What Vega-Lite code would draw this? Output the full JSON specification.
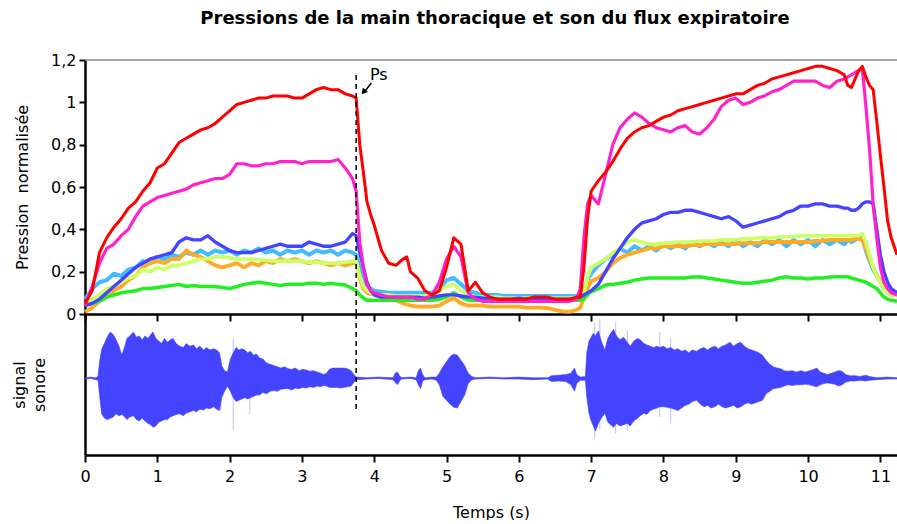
{
  "$schema": "https://vega.github.io/schema/vega-lite/v6.json",
  "padding": {"left": 11, "top": 10, "right": 0, "bottom": 0},
  "background": "white",
  "bounds": "flush",
  "title": {"text": "Pressions de la main thoracique et son du flux expiratoire", "font": "DejaVu Sans", "fontSize": 18, "fontWeight": "bold", "color": "black", "anchor": "middle", "offset": 24, "dx": 40},
  "config": {
    "font": "DejaVu Sans",
    "view": {"stroke": null},
    "axis": {"grid": false, "domainColor": "black", "domainWidth": 2.5, "tickColor": "black", "tickWidth": 2, "labelFont": "DejaVu Sans", "labelFontSize": 16, "labelColor": "black", "titleFont": "DejaVu Sans", "titleFontSize": 16, "titleFontWeight": "normal", "titleColor": "black"}
  },
  "spacing": 0,
  "datasets": {
    "pression": [
      {"t":0.0,"s1":0.07,"s2":0.01,"s3":0.05,"s4":0.04,"s5":0.04,"s6":0.04,"s7":0.05},
      {"t":0.1,"s1":0.12,"s2":0.03,"s3":0.07,"s4":0.05,"s5":0.05,"s6":0.13,"s7":0.11},
      {"t":0.2,"s1":0.15,"s2":0.06,"s3":0.09,"s4":0.06,"s5":0.07,"s6":0.24,"s7":0.29},
      {"t":0.3,"s1":0.16,"s2":0.08,"s3":0.12,"s4":0.08,"s5":0.10,"s6":0.31,"s7":0.36},
      {"t":0.4,"s1":0.19,"s2":0.11,"s3":0.13,"s4":0.09,"s5":0.13,"s6":0.33,"s7":0.41},
      {"t":0.5,"s1":0.18,"s2":0.13,"s3":0.15,"s4":0.10,"s5":0.16,"s6":0.37,"s7":0.45},
      {"t":0.6,"s1":0.21,"s2":0.16,"s3":0.17,"s4":0.105,"s5":0.19,"s6":0.40,"s7":0.50},
      {"t":0.7,"s1":0.22,"s2":0.18,"s3":0.18,"s4":0.11,"s5":0.22,"s6":0.46,"s7":0.53},
      {"t":0.8,"s1":0.25,"s2":0.22,"s3":0.21,"s4":0.12,"s5":0.24,"s6":0.51,"s7":0.58},
      {"t":0.9,"s1":0.24,"s2":0.24,"s3":0.20,"s4":0.12,"s5":0.26,"s6":0.53,"s7":0.62},
      {"t":1.0,"s1":0.27,"s2":0.25,"s3":0.22,"s4":0.125,"s5":0.27,"s6":0.55,"s7":0.69},
      {"t":1.1,"s1":0.26,"s2":0.24,"s3":0.21,"s4":0.13,"s5":0.28,"s6":0.56,"s7":0.71},
      {"t":1.2,"s1":0.28,"s2":0.26,"s3":0.23,"s4":0.135,"s5":0.29,"s6":0.57,"s7":0.76},
      {"t":1.3,"s1":0.27,"s2":0.26,"s3":0.23,"s4":0.14,"s5":0.34,"s6":0.58,"s7":0.81},
      {"t":1.4,"s1":0.29,"s2":0.30,"s3":0.24,"s4":0.13,"s5":0.36,"s6":0.59,"s7":0.83},
      {"t":1.5,"s1":0.28,"s2":0.28,"s3":0.25,"s4":0.135,"s5":0.35,"s6":0.61,"s7":0.85},
      {"t":1.6,"s1":0.30,"s2":0.27,"s3":0.26,"s4":0.13,"s5":0.35,"s6":0.62,"s7":0.87},
      {"t":1.7,"s1":0.28,"s2":0.25,"s3":0.26,"s4":0.13,"s5":0.37,"s6":0.63,"s7":0.88},
      {"t":1.8,"s1":0.30,"s2":0.23,"s3":0.27,"s4":0.13,"s5":0.34,"s6":0.64,"s7":0.90},
      {"t":1.9,"s1":0.29,"s2":0.22,"s3":0.27,"s4":0.125,"s5":0.32,"s6":0.64,"s7":0.93},
      {"t":2.0,"s1":0.30,"s2":0.23,"s3":0.265,"s4":0.12,"s5":0.30,"s6":0.66,"s7":0.96},
      {"t":2.1,"s1":0.28,"s2":0.24,"s3":0.26,"s4":0.13,"s5":0.29,"s6":0.71,"s7":0.99},
      {"t":2.2,"s1":0.30,"s2":0.22,"s3":0.26,"s4":0.14,"s5":0.29,"s6":0.71,"s7":1.00},
      {"t":2.3,"s1":0.29,"s2":0.24,"s3":0.26,"s4":0.145,"s5":0.29,"s6":0.70,"s7":1.01},
      {"t":2.4,"s1":0.31,"s2":0.23,"s3":0.255,"s4":0.15,"s5":0.30,"s6":0.70,"s7":1.02},
      {"t":2.5,"s1":0.29,"s2":0.25,"s3":0.255,"s4":0.145,"s5":0.31,"s6":0.71,"s7":1.02},
      {"t":2.6,"s1":0.30,"s2":0.24,"s3":0.25,"s4":0.14,"s5":0.32,"s6":0.71,"s7":1.03},
      {"t":2.7,"s1":0.28,"s2":0.26,"s3":0.25,"s4":0.135,"s5":0.33,"s6":0.72,"s7":1.03},
      {"t":2.8,"s1":0.30,"s2":0.25,"s3":0.25,"s4":0.14,"s5":0.32,"s6":0.72,"s7":1.03},
      {"t":2.9,"s1":0.29,"s2":0.26,"s3":0.25,"s4":0.14,"s5":0.32,"s6":0.72,"s7":1.02},
      {"t":3.0,"s1":0.30,"s2":0.25,"s3":0.25,"s4":0.14,"s5":0.32,"s6":0.71,"s7":1.02},
      {"t":3.1,"s1":0.28,"s2":0.24,"s3":0.245,"s4":0.145,"s5":0.34,"s6":0.72,"s7":1.04},
      {"t":3.2,"s1":0.30,"s2":0.25,"s3":0.245,"s4":0.145,"s5":0.33,"s6":0.72,"s7":1.06},
      {"t":3.3,"s1":0.29,"s2":0.24,"s3":0.24,"s4":0.14,"s5":0.32,"s6":0.72,"s7":1.07},
      {"t":3.4,"s1":0.30,"s2":0.23,"s3":0.24,"s4":0.145,"s5":0.32,"s6":0.72,"s7":1.06},
      {"t":3.5,"s1":0.28,"s2":0.24,"s3":0.24,"s4":0.14,"s5":0.33,"s6":0.73,"s7":1.06},
      {"t":3.6,"s1":0.30,"s2":0.23,"s3":0.245,"s4":0.137,"s5":0.34,"s6":0.69,"s7":1.04},
      {"t":3.7,"s1":0.29,"s2":0.24,"s3":0.25,"s4":0.12,"s5":0.38,"s6":0.64,"s7":1.03},
      {"t":3.75,"s1":0.28,"s2":0.24,"s3":0.25,"s4":0.11,"s5":0.37,"s6":0.58,"s7":1.02},
      {"t":3.8,"s1":0.22,"s2":0.17,"s3":0.18,"s4":0.09,"s5":0.29,"s6":0.34,"s7":0.80},
      {"t":3.85,"s1":0.16,"s2":0.12,"s3":0.13,"s4":0.075,"s5":0.22,"s6":0.22,"s7":0.67},
      {"t":3.9,"s1":0.13,"s2":0.10,"s3":0.11,"s4":0.065,"s5":0.15,"s6":0.14,"s7":0.53},
      {"t":3.95,"s1":0.12,"s2":0.095,"s3":0.10,"s4":0.065,"s5":0.11,"s6":0.11,"s7":0.47},
      {"t":4.0,"s1":0.11,"s2":0.09,"s3":0.09,"s4":0.065,"s5":0.09,"s6":0.10,"s7":0.42},
      {"t":4.1,"s1":0.105,"s2":0.08,"s3":0.09,"s4":0.065,"s5":0.08,"s6":0.09,"s7":0.30},
      {"t":4.2,"s1":0.10,"s2":0.07,"s3":0.09,"s4":0.065,"s5":0.08,"s6":0.08,"s7":0.24},
      {"t":4.3,"s1":0.10,"s2":0.065,"s3":0.085,"s4":0.065,"s5":0.08,"s6":0.08,"s7":0.23},
      {"t":4.4,"s1":0.10,"s2":0.05,"s3":0.085,"s4":0.065,"s5":0.08,"s6":0.08,"s7":0.26},
      {"t":4.45,"s1":0.10,"s2":0.045,"s3":0.085,"s4":0.065,"s5":0.08,"s6":0.08,"s7":0.27},
      {"t":4.5,"s1":0.10,"s2":0.04,"s3":0.085,"s4":0.065,"s5":0.08,"s6":0.08,"s7":0.20},
      {"t":4.6,"s1":0.10,"s2":0.035,"s3":0.085,"s4":0.065,"s5":0.08,"s6":0.07,"s7":0.17},
      {"t":4.7,"s1":0.10,"s2":0.035,"s3":0.085,"s4":0.065,"s5":0.075,"s6":0.07,"s7":0.11},
      {"t":4.8,"s1":0.10,"s2":0.035,"s3":0.09,"s4":0.065,"s5":0.08,"s6":0.09,"s7":0.09},
      {"t":4.9,"s1":0.12,"s2":0.04,"s3":0.11,"s4":0.07,"s5":0.085,"s6":0.15,"s7":0.11},
      {"t":5.0,"s1":0.16,"s2":0.06,"s3":0.13,"s4":0.08,"s5":0.09,"s6":0.26,"s7":0.22},
      {"t":5.1,"s1":0.17,"s2":0.075,"s3":0.14,"s4":0.10,"s5":0.09,"s6":0.32,"s7":0.36},
      {"t":5.2,"s1":0.14,"s2":0.05,"s3":0.11,"s4":0.08,"s5":0.085,"s6":0.27,"s7":0.33},
      {"t":5.3,"s1":0.11,"s2":0.04,"s3":0.09,"s4":0.065,"s5":0.08,"s6":0.10,"s7":0.11},
      {"t":5.4,"s1":0.10,"s2":0.04,"s3":0.08,"s4":0.065,"s5":0.08,"s6":0.07,"s7":0.15},
      {"t":5.5,"s1":0.09,"s2":0.04,"s3":0.08,"s4":0.065,"s5":0.075,"s6":0.06,"s7":0.10},
      {"t":5.6,"s1":0.09,"s2":0.035,"s3":0.08,"s4":0.065,"s5":0.075,"s6":0.06,"s7":0.08},
      {"t":5.7,"s1":0.09,"s2":0.035,"s3":0.08,"s4":0.065,"s5":0.07,"s6":0.06,"s7":0.07},
      {"t":5.8,"s1":0.085,"s2":0.035,"s3":0.075,"s4":0.065,"s5":0.07,"s6":0.06,"s7":0.07},
      {"t":5.9,"s1":0.085,"s2":0.035,"s3":0.075,"s4":0.065,"s5":0.07,"s6":0.06,"s7":0.07},
      {"t":6.0,"s1":0.085,"s2":0.035,"s3":0.075,"s4":0.065,"s5":0.075,"s6":0.06,"s7":0.07},
      {"t":6.1,"s1":0.085,"s2":0.03,"s3":0.075,"s4":0.065,"s5":0.07,"s6":0.06,"s7":0.07},
      {"t":6.2,"s1":0.085,"s2":0.03,"s3":0.075,"s4":0.065,"s5":0.075,"s6":0.06,"s7":0.08},
      {"t":6.3,"s1":0.085,"s2":0.03,"s3":0.075,"s4":0.065,"s5":0.07,"s6":0.06,"s7":0.08},
      {"t":6.4,"s1":0.085,"s2":0.028,"s3":0.075,"s4":0.065,"s5":0.07,"s6":0.06,"s7":0.08},
      {"t":6.5,"s1":0.085,"s2":0.02,"s3":0.075,"s4":0.065,"s5":0.07,"s6":0.06,"s7":0.07},
      {"t":6.6,"s1":0.085,"s2":0.012,"s3":0.075,"s4":0.065,"s5":0.07,"s6":0.06,"s7":0.07},
      {"t":6.7,"s1":0.085,"s2":0.01,"s3":0.075,"s4":0.065,"s5":0.07,"s6":0.06,"s7":0.07},
      {"t":6.8,"s1":0.085,"s2":0.02,"s3":0.075,"s4":0.065,"s5":0.075,"s6":0.07,"s7":0.08},
      {"t":6.85,"s1":0.09,"s2":0.03,"s3":0.08,"s4":0.065,"s5":0.08,"s6":0.12,"s7":0.08},
      {"t":6.9,"s1":0.11,"s2":0.08,"s3":0.10,"s4":0.07,"s5":0.09,"s6":0.36,"s7":0.22},
      {"t":6.95,"s1":0.16,"s2":0.12,"s3":0.17,"s4":0.09,"s5":0.10,"s6":0.52,"s7":0.45},
      {"t":7.0,"s1":0.19,"s2":0.155,"s3":0.22,"s4":0.105,"s5":0.11,"s6":0.56,"s7":0.58},
      {"t":7.1,"s1":0.23,"s2":0.17,"s3":0.24,"s4":0.12,"s5":0.14,"s6":0.52,"s7":0.63},
      {"t":7.2,"s1":0.26,"s2":0.20,"s3":0.26,"s4":0.137,"s5":0.20,"s6":0.66,"s7":0.67},
      {"t":7.3,"s1":0.28,"s2":0.24,"s3":0.29,"s4":0.14,"s5":0.26,"s6":0.80,"s7":0.72},
      {"t":7.4,"s1":0.31,"s2":0.265,"s3":0.31,"s4":0.145,"s5":0.31,"s6":0.88,"s7":0.78},
      {"t":7.5,"s1":0.29,"s2":0.28,"s3":0.34,"s4":0.15,"s5":0.36,"s6":0.92,"s7":0.83},
      {"t":7.6,"s1":0.32,"s2":0.29,"s3":0.35,"s4":0.16,"s5":0.40,"s6":0.95,"s7":0.86},
      {"t":7.7,"s1":0.30,"s2":0.30,"s3":0.34,"s4":0.165,"s5":0.43,"s6":0.93,"s7":0.88},
      {"t":7.8,"s1":0.32,"s2":0.31,"s3":0.33,"s4":0.17,"s5":0.44,"s6":0.90,"s7":0.89},
      {"t":7.9,"s1":0.30,"s2":0.31,"s3":0.33,"s4":0.17,"s5":0.45,"s6":0.88,"s7":0.91},
      {"t":8.0,"s1":0.33,"s2":0.32,"s3":0.335,"s4":0.17,"s5":0.47,"s6":0.87,"s7":0.93},
      {"t":8.1,"s1":0.31,"s2":0.32,"s3":0.335,"s4":0.17,"s5":0.48,"s6":0.86,"s7":0.94},
      {"t":8.2,"s1":0.33,"s2":0.32,"s3":0.34,"s4":0.17,"s5":0.48,"s6":0.88,"s7":0.96},
      {"t":8.3,"s1":0.31,"s2":0.32,"s3":0.34,"s4":0.17,"s5":0.49,"s6":0.89,"s7":0.97},
      {"t":8.4,"s1":0.34,"s2":0.325,"s3":0.34,"s4":0.175,"s5":0.49,"s6":0.86,"s7":0.98},
      {"t":8.5,"s1":0.32,"s2":0.325,"s3":0.345,"s4":0.176,"s5":0.48,"s6":0.85,"s7":0.99},
      {"t":8.6,"s1":0.34,"s2":0.33,"s3":0.345,"s4":0.17,"s5":0.47,"s6":0.88,"s7":1.00},
      {"t":8.7,"s1":0.32,"s2":0.33,"s3":0.345,"s4":0.165,"s5":0.46,"s6":0.92,"s7":1.01},
      {"t":8.8,"s1":0.34,"s2":0.33,"s3":0.35,"s4":0.16,"s5":0.45,"s6":0.98,"s7":1.02},
      {"t":8.9,"s1":0.32,"s2":0.33,"s3":0.35,"s4":0.155,"s5":0.46,"s6":1.01,"s7":1.03},
      {"t":9.0,"s1":0.35,"s2":0.33,"s3":0.35,"s4":0.15,"s5":0.44,"s6":1.02,"s7":1.04},
      {"t":9.1,"s1":0.32,"s2":0.335,"s3":0.355,"s4":0.145,"s5":0.41,"s6":0.99,"s7":1.04},
      {"t":9.2,"s1":0.34,"s2":0.335,"s3":0.355,"s4":0.145,"s5":0.42,"s6":1.00,"s7":1.06},
      {"t":9.3,"s1":0.32,"s2":0.335,"s3":0.36,"s4":0.15,"s5":0.43,"s6":1.02,"s7":1.08},
      {"t":9.4,"s1":0.35,"s2":0.34,"s3":0.36,"s4":0.155,"s5":0.44,"s6":1.03,"s7":1.09},
      {"t":9.5,"s1":0.33,"s2":0.34,"s3":0.36,"s4":0.16,"s5":0.45,"s6":1.05,"s7":1.11},
      {"t":9.6,"s1":0.35,"s2":0.34,"s3":0.365,"s4":0.17,"s5":0.46,"s6":1.06,"s7":1.12},
      {"t":9.7,"s1":0.32,"s2":0.34,"s3":0.365,"s4":0.176,"s5":0.48,"s6":1.08,"s7":1.13},
      {"t":9.8,"s1":0.35,"s2":0.34,"s3":0.365,"s4":0.17,"s5":0.49,"s6":1.10,"s7":1.14},
      {"t":9.9,"s1":0.33,"s2":0.34,"s3":0.37,"s4":0.17,"s5":0.51,"s6":1.10,"s7":1.15},
      {"t":10.0,"s1":0.35,"s2":0.34,"s3":0.37,"s4":0.165,"s5":0.51,"s6":1.10,"s7":1.16},
      {"t":10.1,"s1":0.32,"s2":0.345,"s3":0.37,"s4":0.17,"s5":0.52,"s6":1.10,"s7":1.17},
      {"t":10.2,"s1":0.35,"s2":0.345,"s3":0.37,"s4":0.17,"s5":0.52,"s6":1.08,"s7":1.17},
      {"t":10.3,"s1":0.33,"s2":0.35,"s3":0.37,"s4":0.175,"s5":0.51,"s6":1.07,"s7":1.16},
      {"t":10.4,"s1":0.35,"s2":0.35,"s3":0.37,"s4":0.176,"s5":0.51,"s6":1.10,"s7":1.15},
      {"t":10.5,"s1":0.33,"s2":0.35,"s3":0.37,"s4":0.176,"s5":0.50,"s6":1.11,"s7":1.13},
      {"t":10.55,"s1":0.35,"s2":0.35,"s3":0.37,"s4":0.176,"s5":0.50,"s6":1.12,"s7":1.08},
      {"t":10.6,"s1":0.34,"s2":0.35,"s3":0.37,"s4":0.17,"s5":0.49,"s6":1.13,"s7":1.07},
      {"t":10.65,"s1":0.35,"s2":0.355,"s3":0.37,"s4":0.165,"s5":0.49,"s6":1.14,"s7":1.11},
      {"t":10.7,"s1":0.36,"s2":0.355,"s3":0.37,"s4":0.16,"s5":0.50,"s6":1.15,"s7":1.15},
      {"t":10.75,"s1":0.36,"s2":0.35,"s3":0.38,"s4":0.155,"s5":0.52,"s6":1.16,"s7":1.17},
      {"t":10.8,"s1":0.30,"s2":0.31,"s3":0.34,"s4":0.15,"s5":0.53,"s6":0.98,"s7":1.12},
      {"t":10.85,"s1":0.25,"s2":0.26,"s3":0.28,"s4":0.14,"s5":0.53,"s6":0.78,"s7":1.08},
      {"t":10.9,"s1":0.21,"s2":0.22,"s3":0.22,"s4":0.13,"s5":0.52,"s6":0.52,"s7":1.06},
      {"t":10.95,"s1":0.18,"s2":0.185,"s3":0.18,"s4":0.12,"s5":0.40,"s6":0.36,"s7":0.91},
      {"t":11.0,"s1":0.155,"s2":0.15,"s3":0.15,"s4":0.10,"s5":0.28,"s6":0.22,"s7":0.75},
      {"t":11.05,"s1":0.13,"s2":0.12,"s3":0.12,"s4":0.08,"s5":0.20,"s6":0.15,"s7":0.60},
      {"t":11.1,"s1":0.12,"s2":0.10,"s3":0.10,"s4":0.07,"s5":0.15,"s6":0.12,"s7":0.44},
      {"t":11.15,"s1":0.11,"s2":0.09,"s3":0.09,"s4":0.065,"s5":0.12,"s6":0.10,"s7":0.36},
      {"t":11.23,"s1":0.10,"s2":0.09,"s3":0.09,"s4":0.06,"s5":0.10,"s6":0.09,"s7":0.28}
    ],
    "son": [
      {"t":0.0,"hi":0.01,"lo":-0.01},{"t":0.08,"hi":0.02,"lo":0.0},{"t":0.15,"hi":0.01,"lo":-0.02},
      {"t":0.18,"hi":0.03,"lo":-0.03},{"t":0.2,"hi":0.25,"lo":-0.25},{"t":0.23,"hi":0.45,"lo":-0.55},
      {"t":0.27,"hi":0.55,"lo":-0.62},{"t":0.31,"hi":0.65,"lo":-0.64},{"t":0.35,"hi":0.72,"lo":-0.62},
      {"t":0.39,"hi":0.68,"lo":-0.6},{"t":0.43,"hi":0.6,"lo":-0.55},{"t":0.47,"hi":0.5,"lo":-0.58},
      {"t":0.51,"hi":0.36,"lo":-0.56},{"t":0.55,"hi":0.5,"lo":-0.6},{"t":0.58,"hi":0.62,"lo":-0.64},
      {"t":0.62,"hi":0.66,"lo":-0.6},{"t":0.67,"hi":0.72,"lo":-0.58},{"t":0.71,"hi":0.64,"lo":-0.64},
      {"t":0.75,"hi":0.66,"lo":-0.66},{"t":0.79,"hi":0.6,"lo":-0.62},{"t":0.83,"hi":0.66,"lo":-0.66},
      {"t":0.87,"hi":0.62,"lo":-0.7},{"t":0.91,"hi":0.68,"lo":-0.72},{"t":0.94,"hi":0.72,"lo":-0.76},
      {"t":0.98,"hi":0.62,"lo":-0.74},{"t":1.02,"hi":0.58,"lo":-0.68},{"t":1.06,"hi":0.54,"lo":-0.66},
      {"t":1.1,"hi":0.62,"lo":-0.64},{"t":1.14,"hi":0.56,"lo":-0.64},{"t":1.18,"hi":0.6,"lo":-0.6},
      {"t":1.22,"hi":0.62,"lo":-0.58},{"t":1.26,"hi":0.54,"lo":-0.56},{"t":1.31,"hi":0.5,"lo":-0.55},
      {"t":1.36,"hi":0.48,"lo":-0.58},{"t":1.4,"hi":0.54,"lo":-0.54},{"t":1.45,"hi":0.5,"lo":-0.52},
      {"t":1.5,"hi":0.52,"lo":-0.5},{"t":1.54,"hi":0.46,"lo":-0.52},{"t":1.59,"hi":0.5,"lo":-0.48},
      {"t":1.64,"hi":0.44,"lo":-0.49},{"t":1.68,"hi":0.48,"lo":-0.46},{"t":1.73,"hi":0.44,"lo":-0.47},
      {"t":1.78,"hi":0.46,"lo":-0.44},{"t":1.82,"hi":0.44,"lo":-0.48},{"t":1.86,"hi":0.4,"lo":-0.5},
      {"t":1.89,"hi":0.2,"lo":-0.3},{"t":1.93,"hi":0.12,"lo":-0.2},{"t":1.97,"hi":0.1,"lo":-0.12},
      {"t":2.01,"hi":0.3,"lo":-0.2},{"t":2.05,"hi":0.4,"lo":-0.3},{"t":2.09,"hi":0.48,"lo":-0.36},
      {"t":2.13,"hi":0.44,"lo":-0.34},{"t":2.17,"hi":0.46,"lo":-0.32},{"t":2.21,"hi":0.44,"lo":-0.3},
      {"t":2.25,"hi":0.4,"lo":-0.32},{"t":2.29,"hi":0.42,"lo":-0.3},{"t":2.33,"hi":0.36,"lo":-0.28},
      {"t":2.37,"hi":0.38,"lo":-0.26},{"t":2.41,"hi":0.32,"lo":-0.26},{"t":2.46,"hi":0.3,"lo":-0.22},
      {"t":2.51,"hi":0.24,"lo":-0.24},{"t":2.56,"hi":0.22,"lo":-0.2},{"t":2.61,"hi":0.2,"lo":-0.19},
      {"t":2.66,"hi":0.18,"lo":-0.2},{"t":2.71,"hi":0.16,"lo":-0.17},{"t":2.76,"hi":0.18,"lo":-0.16},
      {"t":2.81,"hi":0.15,"lo":-0.16},{"t":2.86,"hi":0.14,"lo":-0.18},{"t":2.91,"hi":0.16,"lo":-0.15},
      {"t":2.96,"hi":0.12,"lo":-0.16},{"t":3.01,"hi":0.14,"lo":-0.14},{"t":3.06,"hi":0.13,"lo":-0.15},
      {"t":3.11,"hi":0.11,"lo":-0.13},{"t":3.16,"hi":0.12,"lo":-0.14},{"t":3.21,"hi":0.1,"lo":-0.12},
      {"t":3.26,"hi":0.08,"lo":-0.13},{"t":3.3,"hi":0.06,"lo":-0.11},{"t":3.34,"hi":0.08,"lo":-0.12},
      {"t":3.38,"hi":0.14,"lo":-0.14},{"t":3.43,"hi":0.16,"lo":-0.14},{"t":3.48,"hi":0.16,"lo":-0.14},
      {"t":3.53,"hi":0.16,"lo":-0.15},{"t":3.58,"hi":0.16,"lo":-0.14},{"t":3.63,"hi":0.15,"lo":-0.13},
      {"t":3.68,"hi":0.12,"lo":-0.12},{"t":3.72,"hi":0.06,"lo":-0.06},{"t":3.75,"hi":0.02,"lo":-0.02},
      {"t":3.9,"hi":0.01,"lo":-0.01},{"t":4.05,"hi":0.02,"lo":0.0},{"t":4.26,"hi":0.01,"lo":-0.02},
      {"t":4.29,"hi":0.08,"lo":-0.06},{"t":4.32,"hi":0.1,"lo":-0.1},{"t":4.35,"hi":0.04,"lo":-0.04},
      {"t":4.38,"hi":0.01,"lo":-0.01},{"t":4.5,"hi":0.02,"lo":0.0},{"t":4.58,"hi":0.01,"lo":-0.02},
      {"t":4.61,"hi":0.12,"lo":-0.1},{"t":4.64,"hi":0.16,"lo":-0.16},{"t":4.67,"hi":0.06,"lo":-0.04},
      {"t":4.7,"hi":0.01,"lo":-0.02},{"t":4.8,"hi":0.02,"lo":-0.01},{"t":4.86,"hi":0.02,"lo":-0.03},
      {"t":4.9,"hi":0.08,"lo":-0.1},{"t":4.95,"hi":0.18,"lo":-0.28},{"t":5.0,"hi":0.26,"lo":-0.34},
      {"t":5.05,"hi":0.34,"lo":-0.4},{"t":5.1,"hi":0.38,"lo":-0.45},{"t":5.15,"hi":0.36,"lo":-0.46},
      {"t":5.2,"hi":0.28,"lo":-0.36},{"t":5.25,"hi":0.2,"lo":-0.26},{"t":5.3,"hi":0.08,"lo":-0.08},
      {"t":5.35,"hi":0.03,"lo":-0.02},{"t":5.4,"hi":0.01,"lo":-0.01},{"t":5.6,"hi":0.02,"lo":0.0},
      {"t":5.8,"hi":0.01,"lo":-0.01},{"t":6.0,"hi":0.02,"lo":-0.01},{"t":6.2,"hi":0.01,"lo":-0.02},
      {"t":6.4,"hi":0.01,"lo":-0.01},{"t":6.45,"hi":0.04,"lo":-0.05},{"t":6.55,"hi":0.05,"lo":-0.04},
      {"t":6.65,"hi":0.06,"lo":-0.05},{"t":6.72,"hi":0.08,"lo":-0.1},{"t":6.77,"hi":0.16,"lo":-0.2},
      {"t":6.8,"hi":0.06,"lo":-0.08},{"t":6.85,"hi":0.02,"lo":-0.03},{"t":6.92,"hi":0.03,"lo":-0.03},
      {"t":6.94,"hi":0.4,"lo":-0.3},{"t":6.97,"hi":0.58,"lo":-0.54},{"t":7.0,"hi":0.64,"lo":-0.66},
      {"t":7.03,"hi":0.7,"lo":-0.74},{"t":7.06,"hi":0.66,"lo":-0.82},{"t":7.1,"hi":0.74,"lo":-0.7},
      {"t":7.14,"hi":0.58,"lo":-0.62},{"t":7.19,"hi":0.44,"lo":-0.54},{"t":7.23,"hi":0.62,"lo":-0.68},
      {"t":7.27,"hi":0.7,"lo":-0.72},{"t":7.31,"hi":0.76,"lo":-0.76},{"t":7.35,"hi":0.66,"lo":-0.7},
      {"t":7.4,"hi":0.6,"lo":-0.74},{"t":7.45,"hi":0.64,"lo":-0.72},{"t":7.5,"hi":0.56,"lo":-0.7},
      {"t":7.54,"hi":0.5,"lo":-0.74},{"t":7.59,"hi":0.58,"lo":-0.66},{"t":7.64,"hi":0.62,"lo":-0.62},
      {"t":7.68,"hi":0.6,"lo":-0.58},{"t":7.73,"hi":0.54,"lo":-0.54},{"t":7.77,"hi":0.52,"lo":-0.56},
      {"t":7.82,"hi":0.5,"lo":-0.5},{"t":7.86,"hi":0.48,"lo":-0.48},{"t":7.91,"hi":0.5,"lo":-0.46},
      {"t":7.95,"hi":0.48,"lo":-0.44},{"t":8.0,"hi":0.5,"lo":-0.44},{"t":8.05,"hi":0.46,"lo":-0.45},
      {"t":8.1,"hi":0.48,"lo":-0.46},{"t":8.15,"hi":0.44,"lo":-0.48},{"t":8.2,"hi":0.46,"lo":-0.5},
      {"t":8.25,"hi":0.42,"lo":-0.46},{"t":8.3,"hi":0.44,"lo":-0.42},{"t":8.35,"hi":0.4,"lo":-0.4},
      {"t":8.4,"hi":0.44,"lo":-0.36},{"t":8.46,"hi":0.42,"lo":-0.34},{"t":8.51,"hi":0.46,"lo":-0.4},
      {"t":8.56,"hi":0.48,"lo":-0.44},{"t":8.61,"hi":0.44,"lo":-0.42},{"t":8.66,"hi":0.48,"lo":-0.46},
      {"t":8.71,"hi":0.5,"lo":-0.44},{"t":8.76,"hi":0.46,"lo":-0.4},{"t":8.81,"hi":0.5,"lo":-0.44},
      {"t":8.86,"hi":0.52,"lo":-0.46},{"t":8.92,"hi":0.56,"lo":-0.44},{"t":8.97,"hi":0.5,"lo":-0.42},
      {"t":9.02,"hi":0.54,"lo":-0.46},{"t":9.07,"hi":0.56,"lo":-0.44},{"t":9.12,"hi":0.5,"lo":-0.4},
      {"t":9.17,"hi":0.46,"lo":-0.38},{"t":9.22,"hi":0.44,"lo":-0.4},{"t":9.27,"hi":0.42,"lo":-0.38},
      {"t":9.32,"hi":0.4,"lo":-0.36},{"t":9.37,"hi":0.36,"lo":-0.34},{"t":9.42,"hi":0.28,"lo":-0.24},
      {"t":9.47,"hi":0.22,"lo":-0.2},{"t":9.52,"hi":0.18,"lo":-0.16},{"t":9.57,"hi":0.16,"lo":-0.15},
      {"t":9.62,"hi":0.15,"lo":-0.14},{"t":9.67,"hi":0.12,"lo":-0.12},{"t":9.72,"hi":0.11,"lo":-0.1},
      {"t":9.78,"hi":0.12,"lo":-0.11},{"t":9.84,"hi":0.1,"lo":-0.1},{"t":9.9,"hi":0.12,"lo":-0.1},
      {"t":9.96,"hi":0.1,"lo":-0.09},{"t":10.02,"hi":0.12,"lo":-0.1},{"t":10.08,"hi":0.14,"lo":-0.12},
      {"t":10.12,"hi":0.16,"lo":-0.13},{"t":10.17,"hi":0.1,"lo":-0.1},{"t":10.22,"hi":0.08,"lo":-0.08},
      {"t":10.27,"hi":0.06,"lo":-0.07},{"t":10.32,"hi":0.08,"lo":-0.08},{"t":10.37,"hi":0.1,"lo":-0.09},
      {"t":10.42,"hi":0.12,"lo":-0.12},{"t":10.47,"hi":0.11,"lo":-0.1},{"t":10.52,"hi":0.06,"lo":-0.06},
      {"t":10.58,"hi":0.04,"lo":-0.04},{"t":10.65,"hi":0.04,"lo":-0.04},{"t":10.72,"hi":0.03,"lo":-0.03},
      {"t":10.8,"hi":0.05,"lo":-0.04},{"t":10.85,"hi":0.03,"lo":-0.03},{"t":10.95,"hi":0.01,"lo":-0.02},
      {"t":11.1,"hi":0.02,"lo":-0.01},{"t":11.23,"hi":0.01,"lo":-0.01}
    ],
    "pics": [
      {"t":1.88,"hi":0.3,"lo":-0.5},{"t":2.05,"hi":0.62,"lo":-0.8},{"t":2.28,"hi":0.3,"lo":-0.56},
      {"t":7.05,"hi":0.86,"lo":-0.93},{"t":7.12,"hi":0.92,"lo":-0.8},{"t":7.34,"hi":0.88,"lo":-0.86},
      {"t":7.5,"hi":0.74,"lo":-0.82},{"t":7.95,"hi":0.72,"lo":-0.6},{"t":8.1,"hi":0.62,"lo":-0.7}
    ]
  },
  "vconcat": [
    {
      "width": 812,
      "height": 254,
      "layer": [
        {
          "data": {"values": [{"y": 1.2}]},
          "mark": {"type": "rule", "color": "#888888", "strokeWidth": 1.5},
          "encoding": {"y": {"field": "y", "type": "quantitative"}}
        },
        {
          "data": {"name": "pression"},
          "transform": [{"fold": ["s1", "s2", "s3", "s4", "s5", "s6", "s7"], "as": ["serie", "p"]}],
          "mark": {"type": "line", "strokeJoin": "round"},
          "encoding": {
            "x": {"field": "t", "type": "quantitative", "scale": {"domain": [0, 11.23], "nice": false},
              "axis": {"values": [0,0.5,1,1.5,2,2.5,3,3.5,4,4.5,5,5.5,6,6.5,7,7.5,8,8.5,9,9.5,10,10.5,11], "labels": false, "title": null,
                "tickSize": {"condition": {"test": "datum.value % 1 === 0", "value": 7}, "value": -4}}},
            "y": {"field": "p", "type": "quantitative", "scale": {"domain": [0, 1.2], "nice": false},
              "axis": {"values": [0, 0.2, 0.4, 0.6, 0.8, 1, 1.2], "labelExpr": "replace(format(datum.value, '~g'), '.', ',')", "tickSize": 6, "labelPadding": 3, "title": "Pression\u00a0 normalisée", "titlePadding": 20}},
            "color": {"field": "serie", "type": "nominal", "legend": null,
              "scale": {"domain": ["s1", "s2", "s3", "s4", "s5", "s6", "s7"], "range": ["#44bbff", "#ffaa22", "#ccff66", "#22ee22", "#4444ff", "#ff22cc", "#ff0000"]}},
            "strokeWidth": {"field": "serie", "type": "nominal", "legend": null,
              "scale": {"domain": ["s1", "s2", "s3", "s4", "s5", "s6", "s7"], "range": [4, 3, 3.5, 4.5, 2.2, 2.2, 2.2]}}
          }
        },
        {
          "data": {"values": [{"t": 3.75, "a": 0, "b": 1.143}]},
          "mark": {"type": "rule", "color": "black", "strokeWidth": 1.5, "strokeDash": [5, 4]},
          "encoding": {"x": {"field": "t", "type": "quantitative"}, "y": {"field": "a", "type": "quantitative"}, "y2": {"field": "b"}}
        },
        {
          "data": {"values": [{"t": 3.94, "p": 1.129, "label": "Ps"}]},
          "mark": {"type": "text", "align": "left", "baseline": "middle", "fontSize": 16, "font": "DejaVu Sans", "color": "black"},
          "encoding": {"x": {"field": "t", "type": "quantitative"}, "y": {"field": "p", "type": "quantitative"}, "text": {"field": "label"}}
        },
        {
          "data": {"values": [{"t": 3.96, "p": 1.091, "t2": 3.86, "p2": 1.048}]},
          "mark": {"type": "rule", "color": "black", "strokeWidth": 1.5},
          "encoding": {"x": {"field": "t", "type": "quantitative"}, "y": {"field": "p", "type": "quantitative"}, "x2": {"field": "t2"}, "y2": {"field": "p2"}}
        },
        {
          "data": {"values": [{"t": 3.852, "p": 1.049}]},
          "mark": {"type": "point", "shape": "triangle-up", "filled": true, "color": "black", "size": 45, "angle": 220, "opacity": 1},
          "encoding": {"x": {"field": "t", "type": "quantitative"}, "y": {"field": "p", "type": "quantitative"}}
        }
      ]
    },
    {
      "width": 812,
      "height": 141,
      "layer": [
        {
          "data": {"name": "pics"},
          "mark": {"type": "rule", "color": "#4444ff", "opacity": 0.35, "strokeWidth": 1},
          "encoding": {
            "x": {"field": "t", "type": "quantitative", "scale": {"domain": [0, 11.23], "nice": false},
              "axis": {"values": [0,0.5,1,1.5,2,2.5,3,3.5,4,4.5,5,5.5,6,6.5,7,7.5,8,8.5,9,9.5,10,10.5,11], "title": "Temps (s)",
                "labelExpr": "datum.value % 1 === 0 ? format(datum.value, 'd') : ''", "labelOverlap": false, "labelFlush": false, "labelPadding": 6, "titlePadding": 20,
                "tickSize": {"condition": {"test": "datum.value % 1 === 0", "value": 7}, "value": -4}}},
            "y": {"field": "hi", "type": "quantitative", "scale": {"domain": [-1.19, 1], "nice": false},
              "axis": {"ticks": false, "labels": false, "title": ["signal", "sonore"], "titlePadding": 38, "titleLineHeight": 20}},
            "y2": {"field": "lo"}
          }
        },
        {
          "data": {"name": "son"},
          "mark": {"type": "area", "color": "#4444ff", "opacity": 1, "stroke": "#4444ff", "strokeWidth": 0.6},
          "encoding": {
            "x": {"field": "t", "type": "quantitative"},
            "y": {"field": "hi", "type": "quantitative"},
            "y2": {"field": "lo"}
          }
        },
        {
          "data": {"values": [{"t": 3.75, "a": 1, "b": -0.524}]},
          "mark": {"type": "rule", "color": "black", "strokeWidth": 1.5, "strokeDash": [5, 4]},
          "encoding": {"x": {"field": "t", "type": "quantitative"}, "y": {"field": "a", "type": "quantitative"}, "y2": {"field": "b"}}
        }
      ]
    }
  ]
}
